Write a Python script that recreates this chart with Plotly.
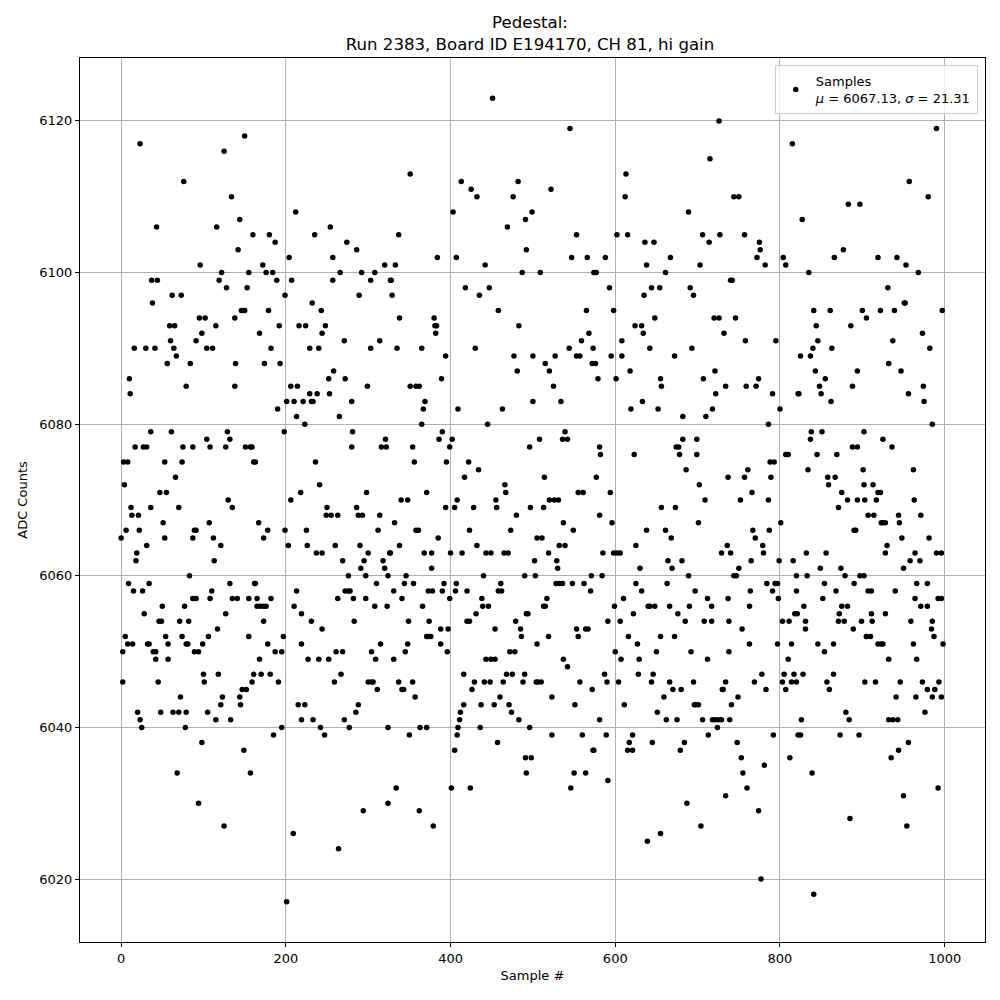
import plotly.graph_objects as go

# (sample #, ADC counts), grouped by sample range
seg_01 = [(23,6117),(76,6112),(43,6106),(37,6099),(44,6099),(38,6096),(62,6097),(73,6097),(59,6093),(65,6093),(60,6091),(64,6090),(67,6089),(56,6088),(16,6090),(30,6090),(41,6090),(10,6086),(11,6084),(79,6085),(36,6079),(61,6079),(17,6077),(27,6077),(31,6077),(3,6075),(8,6075),(53,6075),(74,6075),(4,6072),(66,6073),(47,6071),(55,6071),(12,6069),(36,6069),(70,6069),(13,6068),(21,6068),(51,6067),(6,6066),(22,6066),(0,6065),(53,6065),(31,6064),(19,6063),(18,6062),(9,6059),(34,6059),(15,6058),(26,6058),(77,6056),(50,6056),(28,6055),(46,6054),(49,6054),(71,6054),(5,6052),(54,6052),(74,6052),(8,6051),(14,6051),(32,6051),(34,6051),(57,6051),(79,6051),(2,6050),(39,6050),(42,6050),(42,6049),(57,6049),(2,6046),(45,6046),(72,6044),(20,6042),(48,6042),(63,6042),(70,6042),(23,6041),(25,6040),(78,6040),(68,6034)]
seg_02 = [(150,6118),(125,6116),(134,6110),(116,6106),(144,6107),(160,6105),(142,6103),(96,6101),(122,6100),(155,6100),(119,6099),(128,6098),(153,6098),(95,6094),(102,6094),(138,6094),(146,6095),(150,6095),(98,6092),(115,6093),(91,6091),(104,6090),(111,6090),(84,6088),(139,6088),(138,6085),(129,6079),(132,6078),(104,6078),(75,6077),(87,6077),(108,6077),(127,6077),(151,6077),(157,6077),(159,6077),(130,6070),(135,6069),(107,6067),(87,6065),(89,6066),(91,6066),(112,6065),(121,6064),(113,6062),(83,6060),(132,6059),(162,6059),(87,6057),(91,6057),(108,6057),(135,6057),(141,6057),(155,6057),(110,6058),(82,6054),(155,6052),(81,6051),(99,6051),(106,6052),(117,6053),(89,6050),(94,6050),(127,6055),(100,6047),(118,6047),(101,6046),(152,6045),(161,6047),(159,6046),(79,6042),(105,6042),(115,6041),(133,6041),(121,6043),(123,6044),(145,6043),(144,6044),(147,6045),(98,6038),(149,6037),(157,6034),(94,6030),(125,6027)]
seg_03 = [(212,6108),(180,6105),(235,6105),(187,6104),(204,6102),(172,6101),(176,6100),(184,6100),(189,6099),(207,6099),(199,6097),(232,6096),(243,6095),(179,6095),(192,6093),(216,6093),(224,6093),(168,6092),(244,6092),(182,6090),(229,6090),(240,6090),(174,6088),(193,6088),(206,6085),(214,6085),(201,6083),(210,6083),(221,6083),(231,6083),(233,6083),(229,6084),(238,6084),(190,6082),(213,6081),(223,6080),(198,6079),(161,6075),(163,6075),(236,6075),(241,6072),(218,6071),(206,6070),(167,6067),(178,6066),(225,6066),(173,6065),(199,6066),(203,6064),(226,6064),(237,6063),(244,6063),(163,6059),(165,6057),(182,6057),(165,6056),(169,6056),(173,6056),(176,6056),(213,6058),(210,6056),(219,6055),(173,6054),(231,6054),(244,6053),(197,6052),(219,6051),(178,6051),(187,6050),(195,6050),(168,6049),(170,6047),(181,6047),(227,6049),(240,6049),(191,6046),(215,6043),(223,6043),(219,6041),(233,6041),(195,6040),(242,6040),(185,6039),(209,6026),(201,6017)]
seg_04 = [(254,6106),(274,6104),(286,6103),(257,6102),(320,6101),(257,6099),(266,6100),(292,6100),(308,6100),(303,6099),(327,6099),(289,6097),(248,6093),(271,6091),(303,6090),(314,6091),(258,6087),(252,6086),(272,6086),(253,6084),(280,6083),(299,6085),(265,6081),(281,6079),(280,6077),(316,6077),(322,6077),(321,6078),(298,6071),(250,6069),(286,6069),(249,6068),(255,6068),(263,6068),(288,6068),(293,6068),(314,6068),(312,6066),(260,6064),(290,6064),(269,6062),(295,6062),(318,6062),(300,6063),(326,6063),(291,6061),(320,6061),(276,6060),(297,6060),(324,6060),(272,6058),(276,6058),(278,6058),(263,6057),(282,6057),(297,6057),(310,6059),(308,6056),(323,6056),(283,6054),(261,6050),(269,6050),(304,6050),(315,6051),(309,6049),(252,6049),(267,6047),(259,6046),(300,6046),(304,6046),(306,6046),(311,6045),(288,6043),(285,6042),(271,6041),(247,6039),(277,6040),(324,6040),(324,6030),(294,6029),(264,6024)]
seg_05 = [(351,6113),(337,6105),(403,6108),(333,6101),(384,6102),(407,6102),(328,6099),(329,6097),(338,6094),(380,6094),(381,6093),(383,6093),(382,6092),(335,6090),(365,6090),(394,6089),(389,6086),(351,6085),(358,6085),(362,6085),(369,6083),(367,6082),(365,6080),(409,6082),(390,6079),(354,6077),(386,6078),(399,6077),(402,6078),(356,6075),(395,6075),(371,6071),(340,6070),(348,6070),(394,6069),(405,6069),(408,6070),(332,6067),(358,6066),(361,6066),(385,6065),(338,6064),(327,6063),(368,6063),(377,6063),(400,6063),(377,6061),(346,6060),(344,6059),(355,6059),(392,6059),(407,6059),(331,6058),(373,6058),(378,6058),(390,6058),(406,6058),(341,6057),(399,6057),(366,6056),(349,6054),(374,6054),(371,6052),(373,6052),(376,6052),(388,6053),(397,6053),(348,6051),(345,6050),(388,6051),(396,6050),(331,6049),(337,6046),(341,6045),(343,6045),(354,6046),(357,6044),(350,6039),(363,6040),(371,6040),(409,6040),(408,6039),(405,6037),(334,6032),(401,6032),(362,6029),(379,6027)]
seg_06 = [(451,6123),(413,6112),(425,6111),(432,6110),(482,6112),(476,6110),(469,6106),(491,6107),(442,6101),(492,6103),(487,6100),(418,6098),(447,6098),(435,6097),(458,6095),(483,6093),(430,6090),(477,6089),(481,6087),(463,6082),(445,6080),(422,6075),(434,6074),(417,6073),(466,6072),(467,6071),(428,6069),(455,6070),(456,6069),(480,6068),(423,6066),(473,6066),(432,6064),(414,6063),(443,6063),(449,6063),(465,6063),(470,6063),(440,6060),(490,6060),(420,6058),(461,6059),(458,6058),(462,6058),(438,6057),(439,6056),(446,6056),(492,6055),(420,6054),(423,6054),(431,6055),(479,6054),(485,6053),(486,6052),(454,6053),(472,6050),(478,6050),(443,6049),(449,6049),(454,6049),(416,6047),(468,6047),(475,6047),(490,6047),(426,6045),(429,6046),(441,6046),(448,6046),(464,6046),(488,6046),(437,6043),(453,6043),(471,6043),(460,6044),(474,6042),(483,6041),(412,6042),(416,6043),(411,6041),(436,6040),(457,6038),(491,6036),(424,6032)]
seg_07 = [(545,6119),(522,6111),(499,6108),(553,6105),(547,6102),(566,6102),(509,6100),(574,6100),(565,6095),(568,6092),(559,6091),(544,6090),(573,6090),(500,6089),(527,6089),(553,6089),(557,6089),(515,6088),(572,6088),(520,6087),(525,6085),(500,6083),(534,6083),(539,6079),(542,6078),(536,6078),(508,6078),(496,6077),(514,6073),(555,6071),(561,6071),(497,6069),(513,6069),(520,6070),(526,6070),(531,6070),(537,6067),(549,6066),(505,6065),(511,6065),(532,6064),(539,6064),(519,6063),(502,6062),(529,6062),(530,6061),(503,6060),(571,6060),(528,6059),(532,6059),(536,6059),(548,6059),(562,6059),(570,6058),(517,6057),(513,6056),(515,6056),(494,6055),(519,6052),(555,6052),(553,6053),(564,6053),(567,6053),(505,6051),(537,6049),(542,6048),(504,6046),(506,6046),(510,6046),(523,6044),(557,6046),(572,6045),(551,6043),(496,6040),(523,6039),(560,6039),(573,6037),(498,6036),(492,6034),(550,6034),(564,6034),(546,6032)]
seg_08 = [(613,6113),(612,6110),(602,6105),(615,6105),(636,6104),(647,6104),(588,6102),(638,6101),(577,6100),(593,6098),(644,6098),(654,6098),(635,6097),(598,6095),(648,6094),(624,6093),(632,6093),(634,6092),(608,6091),(642,6090),(595,6089),(608,6089),(576,6088),(618,6087),(579,6086),(601,6086),(655,6086),(656,6085),(633,6083),(619,6082),(652,6082),(581,6077),(582,6076),(623,6076),(577,6073),(594,6071),(656,6069),(581,6068),(596,6067),(638,6066),(625,6064),(585,6063),(598,6063),(602,6063),(606,6063),(630,6061),(584,6060),(625,6059),(632,6058),(610,6057),(599,6056),(640,6056),(642,6056),(648,6056),(591,6054),(606,6054),(622,6055),(616,6052),(655,6052),(627,6051),(600,6050),(650,6050),(607,6049),(629,6049),(587,6047),(628,6047),(646,6047),(590,6046),(604,6046),(644,6046),(611,6043),(651,6042),(581,6041),(589,6039),(621,6039),(617,6038),(645,6038),(574,6037),(615,6037),(621,6037),(591,6033),(639,6025),(655,6026)]
seg_09 = [(726,6120),(715,6115),(689,6108),(706,6105),(714,6104),(727,6105),(667,6102),(703,6101),(661,6100),(691,6098),(695,6097),(740,6099),(720,6094),(726,6094),(732,6092),(693,6090),(672,6089),(721,6087),(707,6086),(734,6085),(722,6084),(718,6082),(682,6081),(710,6081),(682,6078),(699,6078),(674,6077),(677,6077),(678,6076),(699,6076),(686,6074),(737,6073),(702,6072),(709,6070),(673,6069),(701,6067),(661,6066),(668,6065),(736,6064),(729,6063),(740,6063),(664,6062),(681,6062),(669,6061),(689,6060),(663,6059),(697,6058),(712,6057),(737,6057),(666,6056),(690,6056),(717,6056),(676,6055),(685,6054),(708,6054),(717,6054),(738,6054),(672,6052),(692,6050),(738,6050),(712,6049),(666,6046),(695,6046),(734,6046),(659,6044),(670,6045),(680,6045),(730,6045),(731,6045),(696,6043),(698,6043),(701,6043),(662,6041),(675,6041),(706,6041),(718,6041),(721,6041),(725,6041),(729,6041),(739,6041),(724,6040),(713,6039),(684,6038),(679,6037),(734,6031),(687,6030),(704,6027)]
seg_10 = [(815,6117),(744,6110),(750,6110),(757,6105),(775,6104),(776,6103),(772,6102),(782,6101),(804,6102),(807,6101),(742,6099),(746,6094),(758,6091),(795,6091),(759,6085),(771,6085),(774,6086),(791,6084),(822,6084),(800,6082),(786,6080),(807,6076),(810,6076),(788,6075),(793,6075),(757,6073),(761,6074),(789,6073),(766,6071),(752,6070),(786,6070),(801,6067),(767,6066),(787,6066),(770,6065),(779,6064),(780,6063),(765,6062),(799,6062),(816,6062),(750,6061),(744,6060),(747,6060),(820,6060),(784,6059),(794,6059),(797,6059),(764,6058),(791,6058),(820,6058),(798,6057),(763,6056),(803,6054),(811,6054),(818,6055),(821,6055),(754,6053),(763,6051),(797,6051),(814,6051),(810,6049),(778,6047),(805,6047),(817,6047),(769,6046),(803,6046),(814,6046),(783,6045),(807,6045),(820,6046),(749,6044),(741,6043),(792,6039),(822,6039),(748,6038),(753,6036),(781,6035),(812,6036),(755,6034),(760,6032),(774,6029),(777,6020)]
seg_11 = [(883,6109),(897,6109),(827,6107),(866,6102),(877,6103),(835,6100),(841,6095),(861,6095),(900,6095),(844,6093),(886,6093),(846,6091),(840,6090),(863,6090),(905,6094),(825,6089),(837,6089),(843,6087),(894,6087),(855,6086),(848,6085),(888,6085),(823,6084),(850,6084),(862,6083),(851,6079),(902,6079),(837,6078),(838,6079),(888,6077),(894,6077),(845,6076),(869,6076),(834,6074),(901,6074),(858,6073),(859,6072),(867,6073),(875,6071),(882,6070),(894,6070),(903,6070),(871,6069),(890,6066),(892,6066),(832,6063),(856,6063),(833,6060),(849,6061),(874,6061),(879,6060),(897,6060),(902,6060),(854,6059),(890,6059),(868,6058),(852,6057),(829,6056),(875,6056),(882,6056),(872,6055),(831,6054),(871,6054),(878,6054),(899,6054),(831,6053),(889,6053),(905,6052),(846,6051),(865,6051),(854,6050),(828,6047),(865,6047),(903,6046),(857,6046),(860,6045),(880,6042),(826,6041),(884,6041),(825,6039),(873,6039),(896,6039),(839,6034),(885,6028),(841,6018)]
seg_12 = [(990,6119),(957,6112),(980,6110),(919,6102),(942,6102),(953,6101),(968,6100),(931,6098),(922,6095),(939,6095),(951,6096),(952,6096),(997,6095),(973,6092),(937,6091),(982,6090),(932,6088),(947,6087),(956,6084),(974,6085),(975,6083),(985,6080),(925,6078),(936,6077),(962,6074),(902,6072),(913,6072),(919,6071),(922,6071),(917,6070),(963,6070),(907,6068),(914,6068),(923,6067),(925,6067),(928,6067),(944,6068),(945,6067),(971,6068),(948,6065),(981,6065),(930,6064),(928,6063),(964,6063),(958,6062),(970,6062),(950,6061),(990,6063),(996,6063),(907,6058),(911,6058),(940,6058),(966,6059),(979,6059),(964,6057),(992,6057),(996,6057),(971,6056),(979,6056),(911,6055),(928,6055),(912,6054),(959,6054),(985,6054),(984,6053),(905,6052),(910,6052),(987,6052),(919,6051),(923,6051),(925,6051),(962,6051),(998,6051),(966,6049),(932,6049),(946,6046),(973,6046),(916,6046),(979,6045),(988,6045),(993,6046),(941,6044),(965,6044),(985,6044),(996,6044),(976,6042),(932,6041),(937,6041),(943,6041),(956,6038),(944,6037),(935,6036),(992,6032),(950,6031),(954,6027)]

segments = [seg_01, seg_02, seg_03, seg_04, seg_05, seg_06, seg_07, seg_08, seg_09, seg_10, seg_11, seg_12]
points = sorted(p for seg in segments for p in seg)
sample_idx = [p[0] for p in points]
adc_counts = [p[1] for p in points]

title_text = "Pedestal:<br>Run 2383, Board ID E194170, CH 81, hi gain"
legend_label = "Samples<br><i>μ</i> = 6067.13, <i>σ</i> = 21.31"
x_ticks = [0, 200, 400, 600, 800, 1000]
y_ticks = [6020, 6040, 6060, 6080, 6100, 6120]

FONT = "DejaVu Sans"

fig = go.Figure()
fig.add_trace(go.Scatter(
    x=sample_idx, y=adc_counts, mode="markers", name=legend_label,
    marker=dict(color="black", size=5.5, line=dict(width=0)),
    showlegend=True,
))

axis_common = dict(
    showline=True, linecolor="black", linewidth=1, mirror=True,
    showgrid=True, gridcolor="#b0b0b0", gridwidth=1,
    ticks="outside", ticklen=4, tickwidth=1, tickcolor="black",
    tickfont=dict(family=FONT, size=13, color="black"),
    zeroline=False, automargin=False,
)

# the page body adds an 8px offset; margins compensate so the plot sits where the reference has it
fig.update_layout(
    width=1000, height=1000,
    paper_bgcolor="white", plot_bgcolor="white",
    margin=dict(l=72, r=23, t=50, b=66, autoexpand=False),
    font=dict(family=FONT, color="black"),
    title=dict(text=title_text, x=0.522, xanchor="center", y=0.98, yanchor="top",
               font=dict(family=FONT, size=16.6, color="black")),
    xaxis=dict(range=[-49.95, 1048.95], tickvals=x_ticks,
               title=dict(text="Sample #", font=dict(family=FONT, size=13), standoff=6),
               **axis_common),
    yaxis=dict(range=[6011.7, 6128.3], tickvals=y_ticks,
               title=dict(text="ADC Counts", font=dict(family=FONT, size=13), standoff=8),
               **axis_common),
    legend=dict(x=0.992, y=0.992, xanchor="right", yanchor="top",
                bgcolor="rgba(255,255,255,0.8)", bordercolor="#cccccc", borderwidth=1,
                font=dict(family=FONT, size=13, color="black")),
)

fig.write_html("out.html")
